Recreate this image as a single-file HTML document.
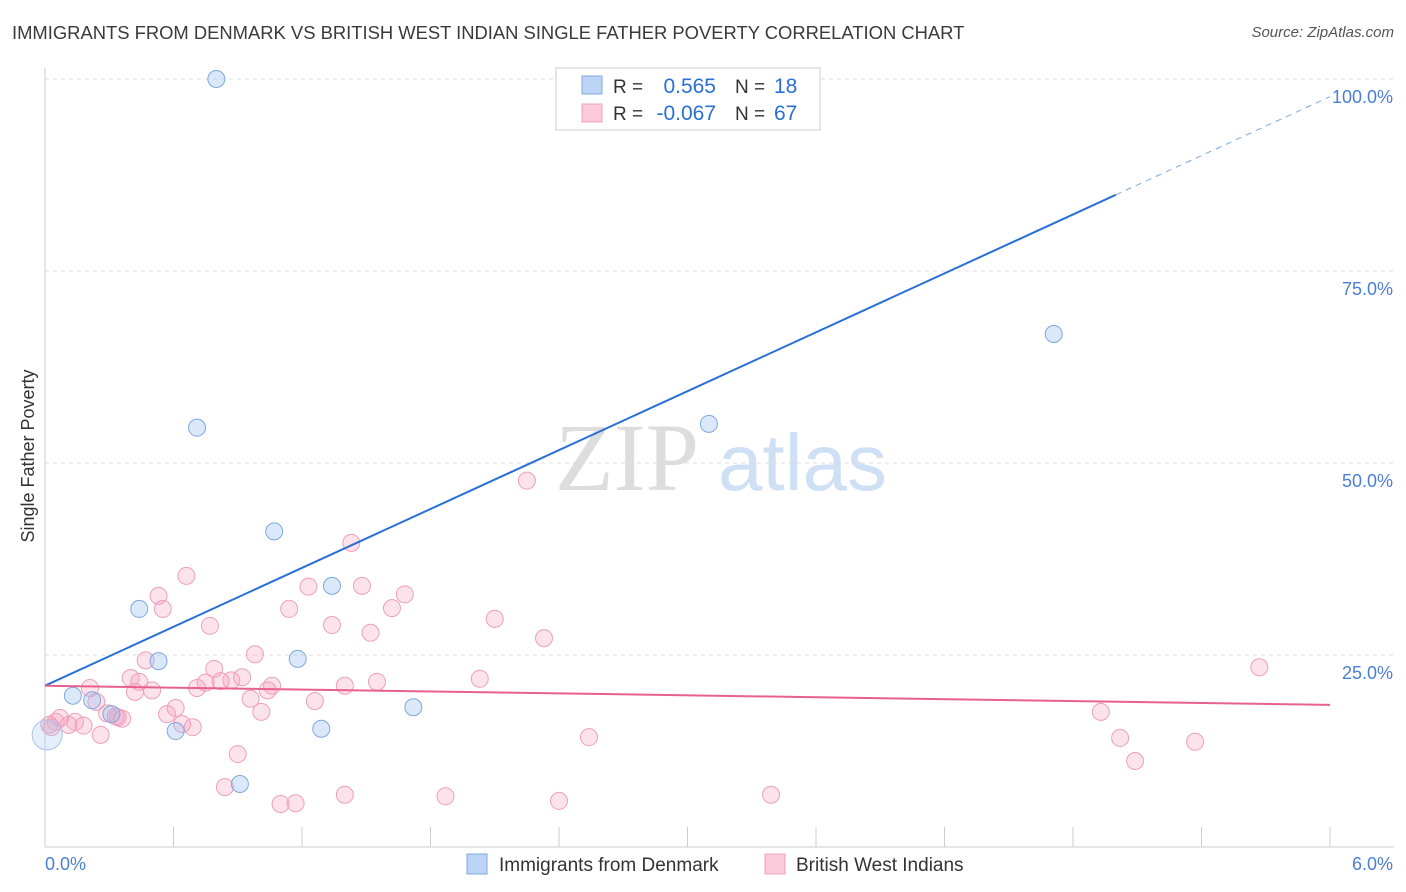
<!DOCTYPE html>
<html><head><meta charset="utf-8">
<style>
body{margin:0;background:#fff;font-family:"Liberation Sans",sans-serif;}
#wrap{position:relative;width:1406px;height:892px;overflow:hidden;}
.title{position:absolute;left:12px;top:22px;font-size:18.4px;color:#3a3a3a;}
.source{position:absolute;right:12px;top:24px;font-size:15px;color:#555;font-style:italic;}
</style></head>
<body>
<div id="wrap">
<div class="title">IMMIGRANTS FROM DENMARK VS BRITISH WEST INDIAN SINGLE FATHER POVERTY CORRELATION CHART</div>
<div class="source">Source: ZipAtlas.com</div>
<svg id="chart" width="1406" height="892" style="position:absolute;left:0;top:0"></svg>
</div>
<script>
const xTicks=[0,0.6,1.2,1.8,2.4,3.0,3.6,4.2,4.8,5.4,6.0];
const yTicks=[25,50,75,100];
const yTickLabels=["25.0%","50.0%","75.0%","100.0%"];
const blueX=[0.80,3.28,0.71,3.10,4.71,1.07,1.34,0.44,0.53,1.18,0.13,0.22,0.31,1.72,0.61,1.29,0.91,0.01];
const blueY=[100,100,54.6,55.1,66.8,41.1,34.0,31.0,24.2,24.5,19.7,19.1,17.3,18.2,15.1,15.4,8.2,14.6];
const pinkX=[0.02,0.07,0.11,0.14,0.18,0.21,0.24,0.26,0.29,0.34,0.36,0.40,0.42,0.44,0.47,0.50,0.53,0.55,0.57,0.61,0.64,0.66,0.69,0.71,0.75,0.77,0.79,0.82,0.84,0.87,0.90,0.92,0.96,0.98,1.01,1.04,1.06,1.10,1.14,1.17,1.23,1.26,1.34,1.40,1.40,1.43,1.48,1.52,1.55,1.62,1.68,1.87,2.03,2.10,2.25,2.33,2.40,2.54,3.39,4.93,5.02,5.09,5.37,5.67,0.03,0.05,0.33];
const pinkY=[15.9,16.8,15.9,16.3,15.8,20.7,18.9,14.6,17.4,16.9,16.7,22.0,20.2,21.5,24.3,20.4,32.7,31.0,17.3,18.1,16.0,35.3,15.6,20.7,21.4,28.8,23.2,21.6,7.8,21.7,12.1,22.1,19.3,25.1,17.6,20.4,21.0,5.6,31.0,5.7,33.9,19.0,28.9,21.0,6.8,39.6,34.0,27.9,21.5,31.1,32.9,6.6,21.9,29.7,47.7,27.2,6.0,14.3,6.8,17.6,14.2,11.2,13.7,23.4,15.6,16.3,17.0];
const blueLine=[21.0,97.7];
const pinkLine=[21.0,18.5];
const blueSolidEnd=5.0;

const NS="http://www.w3.org/2000/svg";
const svg=document.getElementById('chart');
const X0=45,X1=1330,Y0=847,Y100=79;
const sx=v=>X0+(X1-X0)*v/6;
const sy=v=>Y0-(Y0-Y100)*v/100;
function mk(tag,attrs,parent){const e=document.createElementNS(NS,tag);for(const k in attrs)e.setAttribute(k,attrs[k]);(parent||svg).appendChild(e);return e;}

let wm=mk('text',{x:555,y:490,'font-size':96,'font-family':'Liberation Serif',fill:'#ddd'});wm.textContent='ZIP';


let wm2=mk('text',{x:718,y:490,'font-size':80,'font-family':'Liberation Sans',fill:'#cfe0f5'});wm2.textContent='atlas';



yTicks.forEach((t,i)=>{
 const g=mk('line',{x1:X0,x2:1394,y1:sy(t),y2:sy(t),stroke:'#ddd','stroke-dasharray':'4,4'});
 
 
 const tl=mk('text',{x:1393,y:sy(t)+24,'text-anchor':'end','font-size':18,fill:'#4a7fd4'});
 tl.textContent=yTickLabels[i];
 
 
});
let ax=mk('line',{x1:X0,x2:X0,y1:68,y2:Y0,stroke:'#ccc'});


let bx=mk('line',{x1:X0,x2:1394,y1:Y0,y2:Y0,stroke:'#ccc'});


xTicks.forEach(t=>{
 const tk=mk('line',{x1:sx(t),x2:sx(t),y1:Y0,y2:Y0-20,stroke:'#ccc'});
 
 
});
let xl0=mk('text',{x:45,y:870,'font-size':18,fill:'#4a7fd4'});xl0.textContent='0.0%';


let xl1=mk('text',{x:1393,y:870,'text-anchor':'end','font-size':18,fill:'#4a7fd4'});xl1.textContent='6.0%';


let yt=mk('text',{x:34,y:456,'font-size':18,fill:'#333','text-anchor':'middle',transform:'rotate(-90 34 456)'});yt.textContent='Single Father Poverty';



pinkX.forEach((x,i)=>{
 const c=mk('circle',{cx:sx(x),cy:sy(pinkY[i]),r:8.5,fill:'rgba(244,160,190,0.3)',stroke:'#eea0bb','stroke-width':1});
 
 
});
blueX.forEach((x,i)=>{
 const big=i===blueX.length-1;
 const c=mk('circle',{cx:sx(x),cy:sy(blueY[i]),r:big?15:8.5,fill:big?'rgba(170,200,240,0.3)':'rgba(150,190,240,0.35)',stroke:big?'#a9c4ea':'#7fa8de','stroke-width':1});
 
 
});
const bAt=x=>blueLine[0]+(blueLine[1]-blueLine[0])*x/6;
let bl=mk('line',{x1:sx(0),y1:sy(bAt(0)),x2:sx(blueSolidEnd),y2:sy(bAt(blueSolidEnd)),stroke:'#2a6fd6','stroke-width':2});


let bd=mk('line',{x1:sx(blueSolidEnd),y1:sy(bAt(blueSolidEnd)),x2:sx(6),y2:sy(bAt(6)),stroke:'#7fa8de','stroke-width':1,'stroke-dasharray':'6,5'});


let pl=mk('line',{x1:sx(0),y1:sy(pinkLine[0]),x2:sx(6),y2:sy(pinkLine[1]),stroke:'#e8608e','stroke-width':2});



let lg=mk('g',{});


mk('rect',{x:556,y:68,width:264,height:62,fill:'#fff',stroke:'#ccc'},lg);
mk('rect',{x:582,y:76,width:20,height:18,fill:'#bcd4f5',stroke:'#7fa8de'},lg);
mk('rect',{x:582,y:104,width:20,height:18,fill:'#fbcadb',stroke:'#eea0bb'},lg);
const rows=[["R = ","0.565","N = ","18",93],["R = ","-0.067","N = ","67",120]];
rows.forEach(r=>{
 let a=mk('text',{x:613,y:r[4],'font-size':19,fill:'#333'},lg);a.textContent=r[0];
 let b=mk('text',{x:716,y:r[4],'font-size':21,fill:'#2a6fd6','text-anchor':'end'},lg);b.textContent=r[1];
 let c=mk('text',{x:735,y:r[4],'font-size':19,fill:'#333'},lg);c.textContent=r[2];
 let d=mk('text',{x:774,y:r[4],'font-size':21,fill:'#2a6fd6'},lg);d.textContent=r[3];
});
let bl1=mk('g',{});


mk('rect',{x:467,y:854,width:20,height:20,fill:'#bcd4f5',stroke:'#7fa8de'},bl1);
let t1=mk('text',{x:499,y:871,'font-size':19,fill:'#333'},bl1);t1.textContent='Immigrants from Denmark';
let bl2=mk('g',{});


mk('rect',{x:765,y:854,width:20,height:20,fill:'#fbcadb',stroke:'#eea0bb'},bl2);
let t2=mk('text',{x:796,y:871,'font-size':19,fill:'#333'},bl2);t2.textContent='British West Indians';
</script>
</body></html>
